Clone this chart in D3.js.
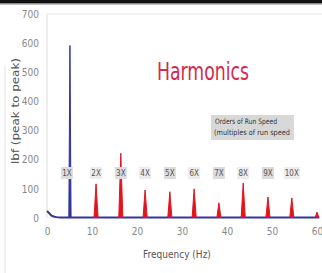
<!DOCTYPE html>
<html>
<head>
<meta charset="utf-8">
<script src="https://cdn.jsdelivr.net/npm/d3@7"></script>
<style>
  body { margin: 0; background: #fff; }
  svg { display: block; }
</style>
</head>
<body>
<div id="chart"></div>
<script>
// values
const harmonicLabels = ['1X','2X','3X','4X','5X','6X','7X','8X','9X','10X'];
const harmonicFreqs = [5.1, 10.9, 16.4, 21.8, 27.3, 32.7, 38.2, 43.6, 49.1, 54.4];
const harmonicAmps = [592, 117, 222, 96, 90, 100, 52, 120, 72, 69];
const extraFreqs = [60];
const extraAmps = [20];
const baseFreqs = [0, 0.4, 1, 2, 3, 60.5];
const baseAmps = [24, 18, 8, 3, 2, 2];
const xTicks = [0, 10, 20, 30, 40, 50, 60];
const yTicks = [0, 100, 200, 300, 400, 500, 600, 700];

const width = 322, height = 273;
const margin = {top: 14, right: 5, bottom: 55, left: 47};
const font = 'Liberation Sans Narrow, DejaVu Sans Condensed, sans-serif';

function draw_chart(){
    let svg = d3.select('#chart').append('svg')
        .attr('width', width)
        .attr('height', height)
        .style('background-color', '#FFFFFF');

    // black strip at the top of the photo
    svg.append('rect').attr('x', 0).attr('y', 0).attr('width', width).attr('height', 3).attr('fill', '#111');
    svg.append('rect').attr('x', 0).attr('y', 3).attr('width', width).attr('height', 1.5).attr('fill', '#888');
    svg.append('line').attr('x1', 5).attr('x2', 5).attr('y1', 65).attr('y2', 273)
        .attr('stroke', '#e4e4e4');

    let x = d3.scaleLinear().domain([0, 60]).range([margin.left, 317]);
    let y = d3.scaleLinear().domain([0, 700]).range([218, margin.top]);

    // frame
    svg.append('line').attr('x1', x(0)).attr('x2', width).attr('y1', y(700)).attr('y2', y(700))
        .attr('stroke', '#e6e6e6');
    svg.append('line').attr('x1', x(0)).attr('x2', x(0)).attr('y1', y(700)).attr('y2', y(0))
        .attr('stroke', '#dddddd');

    let xAxis = d3.axisBottom(x).tickValues(xTicks).tickSize(0).tickPadding(10);
    svg.append('g').attr('transform', `translate(0,${y(0)})`).call(xAxis)
        .call(g => g.select('.domain').remove())
        .selectAll('text').attr('fill', '#888').style('font-size', '10px')
        .style('font-family', font);

    let yAxis = d3.axisLeft(y).tickValues(yTicks).tickSize(0).tickPadding(8);
    svg.append('g').attr('transform', `translate(${x(0)},0)`).call(yAxis)
        .call(g => g.select('.domain').remove())
        .selectAll('text').attr('fill', '#888').style('font-size', '10px')
        .style('font-family', font);

    // axis titles
    svg.append('text').text('Frequency (Hz)')
        .attr('x', 177).attr('y', 258).attr('text-anchor', 'middle')
        .attr('fill', '#555').style('font-size', '10px')
        .style('font-family', font);
    svg.append('text').text('lbf (peak to peak)')
        .attr('transform', 'translate(19,111) rotate(-90)').attr('text-anchor', 'middle')
        .attr('textLength', 106).attr('lengthAdjust', 'spacingAndGlyphs')
        .attr('fill', '#555').style('font-size', '10.5px')
        .style('font-family', font);

    // baseline spectrum
    let line = d3.line().x(d => x(d[0])).y(d => y(d[1])).curve(d3.curveMonotoneX);
    svg.append('path').datum(d3.zip(baseFreqs, baseAmps))
        .attr('d', line).attr('fill', 'none').attr('stroke', '#34349a').attr('stroke-width', 2);

    // peaks
    let peak = (f, a, w) => `M${x(f - w)},${y(2)}L${x(f)},${y(a)}L${x(f + w)},${y(2)}Z`;
    let peaks = d3.zip(harmonicFreqs, harmonicAmps, harmonicLabels);
    svg.selectAll('.peak').data(peaks).enter().append('path')
        .attr('class', 'peak')
        .attr('d', d => peak(d[0], d[1], d[2] === '1X' ? 0.25 : 0.45))
        .attr('fill', d => d[2] === '1X' ? '#33339c' : '#e2141e')
        .attr('stroke', d => d[2] === '1X' ? '#33339c' : '#e2141e')
        .attr('stroke-width', 1);
    svg.selectAll('.extra').data(d3.zip(extraFreqs, extraAmps)).enter().append('path')
        .attr('class', 'extra')
        .attr('d', d => peak(d[0], d[1], 0.4))
        .attr('fill', '#e2141e').attr('stroke', '#e2141e');

    // harmonic labels
    let labels = svg.selectAll('.lab').data(peaks).enter().append('g')
        .attr('class', 'lab')
        .attr('transform', d => `translate(${x(d[0]) - (d[2] === '1X' ? 3 : 0)},173)`);
    labels.append('rect')
        .attr('x', d => d[2].length > 2 ? -8 : -6).attr('y', -6)
        .attr('width', d => d[2].length > 2 ? 16 : 12).attr('height', 12)
        .attr('fill', (d, i) => i % 2 === 0 ? '#dcdcdc' : '#ececec');
    labels.append('text').text(d => d[2])
        .attr('text-anchor', 'middle').attr('dy', '0.35em')
        .attr('fill', '#555').style('font-size', '8px')
        .style('font-family', font);

    // title
    svg.append('text').text('Harmonics')
        .attr('x', 157).attr('y', 80)
        .attr('textLength', 92).attr('lengthAdjust', 'spacingAndGlyphs')
        .attr('fill', '#d42a4c').style('font-size', '25px')
        .style('font-family', font);

    // annotation box
    let note = svg.append('g').attr('transform', 'translate(211,115)');
    note.append('rect').attr('width', 83).attr('height', 25).attr('fill', '#d8d8d8');
    note.append('text').text('Orders of Run Speed')
        .attr('x', 4).attr('y', 9).attr('fill', '#333').style('font-size', '7.5px')
        .attr('textLength', 62).attr('lengthAdjust', 'spacingAndGlyphs')
        .style('font-family', font);
    note.append('text').text('(multiples of run speed')
        .attr('x', 3).attr('y', 20).attr('fill', '#333').style('font-size', '7.5px')
        .attr('textLength', 76).attr('lengthAdjust', 'spacingAndGlyphs')
        .style('font-family', font);
}

draw_chart();
</script>
</body>
</html>
